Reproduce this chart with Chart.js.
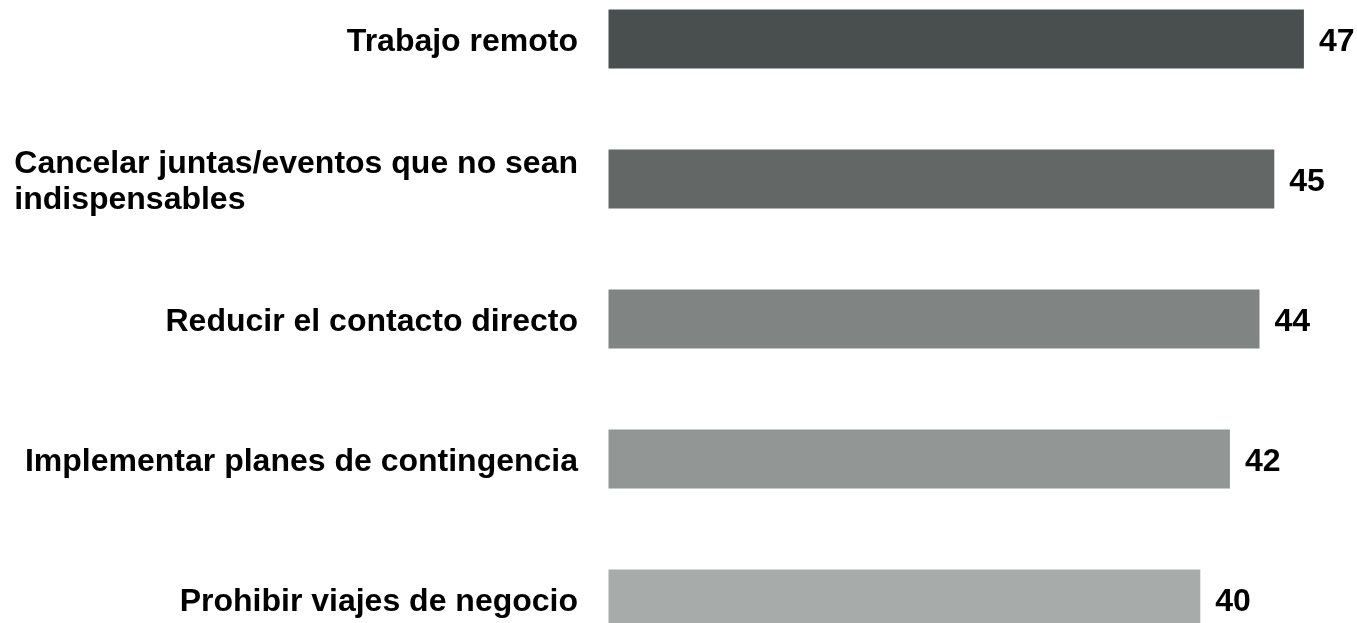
<!DOCTYPE html>
<html>
<head>
<meta charset="utf-8">
<script src="https://cdn.jsdelivr.net/npm/chart.js@4/dist/chart.umd.min.js"></script>
<style>
  html, body { margin: 0; padding: 0; background: #ffffff; overflow: hidden; width: 1357px; height: 623px; }
  #wrap { position: absolute; left: 0; top: -31.5px; width: 1357px; height: 700px; }
</style>
</head>
<body>
<div id="wrap"><canvas id="c"></canvas></div>
<script>
const categories = [
  ["Trabajo remoto"],
  ["Cancelar juntas/eventos que no sean", "indispensables"],
  ["Reducir el contacto directo"],
  ["Implementar planes de contingencia"],
  ["Prohibir viajes de negocio"]
];
const values = [47, 45, 44, 42, 40];
const barColors = ["#494e4e", "#636867", "#808584", "#929695", "#a7abaa"];

const FONT = "bold 32px 'Liberation Sans', Arial, sans-serif";

const labelPlugin = {
  id: 'labelPlugin',
  afterDatasetsDraw(chart) {
    const ctx = chart.ctx;
    const yScale = chart.scales.y;
    const meta = chart.getDatasetMeta(0);
    ctx.save();
    ctx.font = FONT;
    ctx.fillStyle = "#000000";
    ctx.textBaseline = "alphabetic";
    categories.forEach((lines, i) => {
      const yc = yScale.getPixelForValue(i);
      const widths = lines.map(l => ctx.measureText(l).width);
      const maxW = Math.max(...widths);
      const rightX = 578;
      const lh = 36;
      const n = lines.length;
      ctx.textAlign = "left";
      lines.forEach((l, k) => {
        const base = yc + (k - (n - 1) / 2) * lh + 11.5;
        const x = n > 1 ? rightX - maxW : rightX - widths[k];
        ctx.fillText(l, x, base);
      });
      const bar = meta.data[i];
      ctx.textAlign = "left";
      ctx.fillText(String(values[i]), bar.x + 15, yc + 11.5);
    });
    ctx.restore();
  }
};

new Chart(document.getElementById('c'), {
  type: 'bar',
  data: {
    labels: categories,
    datasets: [{
      data: values,
      backgroundColor: barColors,
      borderWidth: 0,
      barPercentage: 0.421,
      categoryPercentage: 1.0
    }]
  },
  options: {
    indexAxis: 'y',
    responsive: true,
    maintainAspectRatio: false,
    animation: false,
    layout: { padding: { left: 608.3, right: 8.7, top: 0, bottom: 0 } },
    plugins: { legend: { display: false }, tooltip: { enabled: false } },
    scales: {
      x: { display: false, min: 0, max: 50, grid: { display: false } },
      y: { display: false, offset: true, grid: { display: false } }
    }
  },
  plugins: [labelPlugin]
});
</script>
</body>
</html>
